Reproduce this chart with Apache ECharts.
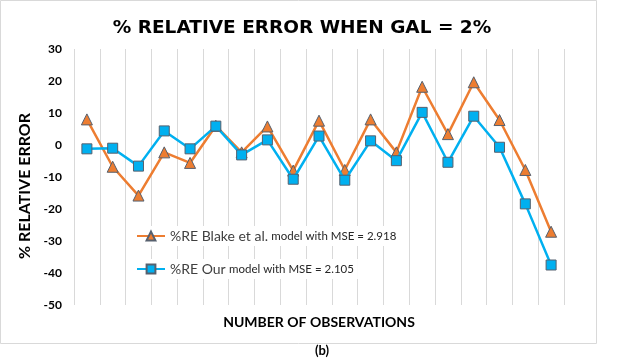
<!DOCTYPE html>
<html>
<head>
<meta charset="utf-8">
<script src="https://cdn.jsdelivr.net/npm/echarts@6/dist/echarts.min.js"></script>
<style>html,body{margin:0;padding:0;background:#fff}#c{width:630px;height:358px}</style>
</head>
<body>
<div id="c"></div>
<script>
var categories = ['1','2','3','4','5','6','7','8','9','10','11','12','13','14','15','16','17','18','19'];
var blakeValues = [8.0, -6.8, -15.8, -2.3, -5.6, 6.0, -2.3, 5.8, -8.0, 7.6, -7.8, 8.0, -2.3, 18.2, 3.4, 19.6, 7.8, -7.8, -27.1];
var ourValues = [-1.2, -1.0, -6.6, 4.4, -1.2, 5.9, -3.1, 1.6, -10.7, 2.8, -11.0, 1.3, -4.9, 10.2, -5.4, 9.0, -0.7, -18.4, -37.5];
var seriesNames = ['%RE Blake et al.', '%RE Our'];
var legendSuffix = {'%RE Blake et al.': 'model with MSE = 2.918', '%RE Our': 'model with MSE = 2.105'};
var yTicks = {min: -50, max: 30, interval: 10};

var FONT = 'Lato, "Open Sans", sans-serif';
var chart = echarts.init(document.getElementById('c'), null, {renderer: 'canvas'});
function legendCfg(name, top) {
  return {
    data: [name], left: 132, top: top, orient: 'horizontal',
    backgroundColor: '#fff', padding: [3, 4, 3, 4],
    itemWidth: 28, itemHeight: 11, itemGap: 4,
    formatter: function (n) { return '{a|' + n + '} {b|' + legendSuffix[n] + '}'; },
    textStyle: { rich: {
      a: {fontFamily: FONT, fontSize: 14, color: '#404040'},
      b: {fontFamily: FONT, fontSize: 11.5, color: '#262626'}
    }}
  };
}
chart.setOption({
  animation: false,
  backgroundColor: '#fff',
  title: [
    {text: '% RELATIVE ERROR WHEN GAL = 2%', left: 297, top: 14, textAlign: 'center',
     textStyle: {fontFamily: '"DejaVu Sans", sans-serif', fontWeight: 'bold', fontSize: 18.5, color: '#000'}}
  ],
  legend: [legendCfg(seriesNames[0], 226), legendCfg(seriesNames[1], 259)],
  grid: {left: 74, right: 66, top: 49, bottom: 53, containLabel: false},
  xAxis: {
    type: 'category', data: categories, boundaryGap: true,
    name: 'NUMBER OF OBSERVATIONS', nameLocation: 'middle', nameGap: 10,
    nameTextStyle: {fontFamily: FONT, fontWeight: 'bold', fontSize: 14, color: '#000'},
    axisLine: {show: false}, axisTick: {show: false}, axisLabel: {show: false},
    splitLine: {show: true, lineStyle: {color: '#d9d9d9', width: 1}}
  },
  yAxis: {
    type: 'value', min: yTicks.min, max: yTicks.max, interval: yTicks.interval,
    name: '% RELATIVE ERROR', nameLocation: 'middle', nameGap: 40,
    nameTextStyle: {fontFamily: FONT, fontWeight: 'bold', fontSize: 16, color: '#000', padding: [0, 18, 0, 0]},
    axisLine: {show: false}, axisTick: {show: false},
    axisLabel: {fontFamily: FONT, fontWeight: 'bold', fontSize: 12, color: '#000', margin: 12},
    splitLine: {show: false}
  },
  series: [
    {name: seriesNames[0], type: 'line', data: blakeValues, symbol: 'triangle', symbolSize: 11,
     lineStyle: {color: '#ED7D31', width: 2.5},
     itemStyle: {color: '#ED7D31', borderColor: '#56606e', borderWidth: 1}, z: 2},
    {name: seriesNames[1], type: 'line', data: ourValues, symbol: 'rect', symbolSize: 10,
     lineStyle: {color: '#00B0F0', width: 2.5},
     itemStyle: {color: '#00B0F0', borderColor: '#56606e', borderWidth: 1}, z: 3}
  ],
  graphic: [
    {type: 'rect', shape: {x: 0.5, y: 0.5, width: 596, height: 343}, style: {fill: 'none', stroke: '#d9d9d9', lineWidth: 1}, silent: true, z: -1},
    {type: 'text', x: 322, y: 351, silent: true,
     style: {text: '(b)', align: 'center', verticalAlign: 'middle', font: 'bold 13px Lato, sans-serif', fill: '#000'}}
  ]
});
</script>
</body>
</html>
